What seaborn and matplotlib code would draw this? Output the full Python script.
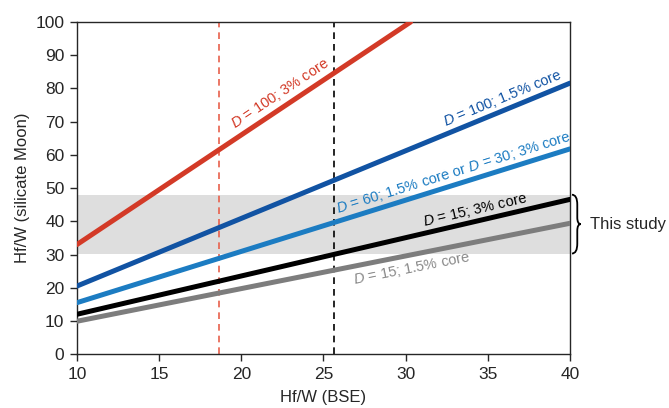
import numpy as np
import pandas as pd
import seaborn as sns
import matplotlib.pyplot as plt
from matplotlib.path import Path
from matplotlib.patches import PathPatch
import matplotlib.transforms as mtransforms

# values
labels = ["$D$ = 100; 3% core",
          "$D$ = 100; 1.5% core",
          "$D$ = 60; 1.5% core or $D$ = 30; 3% core",
          "$D$ = 15; 3% core",
          "$D$ = 15; 1.5% core"]
bse_start = [10, 10, 10, 10, 10]
bse_end = [30.3, 40, 40, 40, 40]
moon_start = [33.0, 20.5, 15.5, 12.0, 9.9]
moon_end = [100.0, 81.6, 61.8, 46.6, 39.4]
colors = ["#d33a27", "#1153a3", "#1c7cc2", "#000000", "#7d7d7d"]
text_colors = ["#d33a27", "#1153a3", "#1c7cc2", "#000000", "#8a8a8a"]
label_x = [22.4, 35.9, 32.9, 34.2, 30.4]
label_offset = [4.5, 3.8, 3.8, 3.5, -4.2]

band = [30.3, 48.0]
vlines = [18.65, 25.65]
vline_colors = ["#e8604c", "#000000"]

sns.set_style("ticks")
plt.rcParams["font.family"] = ["Liberation Sans", "DejaVu Sans"]
plt.rcParams["mathtext.fontset"] = "custom"
plt.rcParams["mathtext.it"] = "Liberation Sans:italic"
plt.rcParams["mathtext.rm"] = "Liberation Sans"

fig = plt.figure(figsize=(6.69, 4.08), dpi=100)
ax = fig.add_axes([0.115, 0.132, 0.737, 0.814])

ax.axhspan(band[0], band[1], color="#dedede", lw=0, zorder=0)
for xv, c in zip(vlines, vline_colors):
    ax.axvline(xv, color=c, ls=(0, (4, 3)), lw=1.2, zorder=1)

rows = []
for i, lab in enumerate(labels):
    rows.append({"series": lab, "bse": bse_start[i], "moon": moon_start[i]})
    rows.append({"series": lab, "bse": bse_end[i], "moon": moon_end[i]})
df = pd.DataFrame(rows)

sns.lineplot(data=df, x="bse", y="moon", hue="series", palette=colors,
             hue_order=labels, lw=3.6, legend=False, ax=ax, zorder=3)

ax.set_xlim(10, 40)
ax.set_ylim(0, 100)
ax.set_xticks(range(10, 41, 5))
ax.set_yticks(range(0, 101, 10))
ax.tick_params(labelsize=12.5, length=5, width=1, direction="out", pad=4)
for s in ax.spines.values():
    s.set_linewidth(1)
ax.set_xlabel("Hf/W (BSE)", fontsize=12, labelpad=6)
ax.set_ylabel("Hf/W (silicate Moon)", fontsize=12, labelpad=4)

fig.canvas.draw()
for i, lab in enumerate(labels):
    slope = (moon_end[i] - moon_start[i]) / (bse_end[i] - bse_start[i])
    p0 = ax.transData.transform((bse_start[i], moon_start[i]))
    p1 = ax.transData.transform((bse_end[i], moon_end[i]))
    ang = np.degrees(np.arctan2(p1[1] - p0[1], p1[0] - p0[0]))
    xm = label_x[i]
    ym = moon_start[i] + slope * (xm - bse_start[i]) + label_offset[i]
    ax.text(xm, ym, lab, color=text_colors[i], fontsize=10.5, rotation=ang,
            rotation_mode="anchor", ha="center", va="center", zorder=4)

# brace for "This study"
trans = mtransforms.blended_transform_factory(ax.transAxes, ax.transData)
x0 = 1.004
w = 0.018
lo, hi = band
mid = (lo + hi) / 2
verts = [(x0, hi), (x0 + w * 0.6, hi), (x0 + w * 0.6, hi - 3),
         (x0 + w * 0.6, mid + 2), (x0 + w * 0.6, mid), (x0 + w, mid),
         (x0 + w * 0.6, mid), (x0 + w * 0.6, mid - 2), (x0 + w * 0.6, lo + 3),
         (x0 + w * 0.6, lo), (x0, lo)]
codes = [Path.MOVETO, Path.CURVE3, Path.CURVE3, Path.LINETO, Path.CURVE3,
         Path.CURVE3, Path.CURVE3, Path.CURVE3, Path.LINETO, Path.CURVE3,
         Path.CURVE3]
ax.add_patch(PathPatch(Path(verts, codes), fill=False, lw=1.3, color="black",
                       transform=trans, clip_on=False))
ax.text(1.04, mid, "This study", transform=trans, fontsize=12,
        va="center", ha="left")

fig.savefig("out.png", dpi=100)
